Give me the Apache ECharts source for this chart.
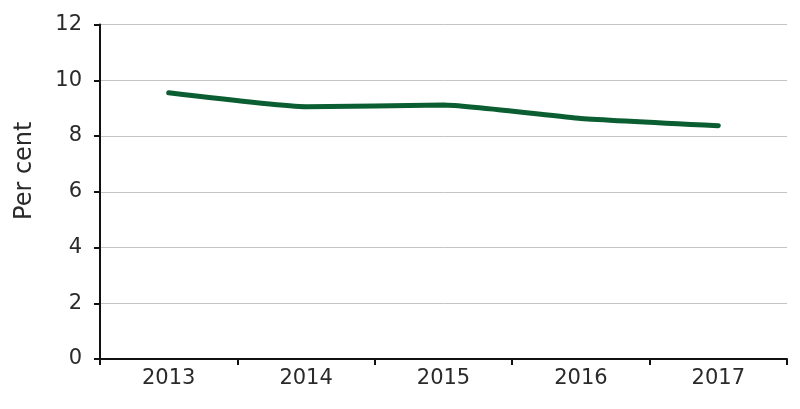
<!DOCTYPE html>
<html>
<head>
<meta charset="utf-8">
<script src="https://cdn.jsdelivr.net/npm/echarts@6/dist/echarts.min.js"></script>
<style>
  html, body { margin: 0; padding: 0; background: #fff; }
  #main { width: 800px; height: 409px; }
</style>
</head>
<body>
<div id="main"></div>
<script>
// 数据
var years = ['2013', '2014', '2015', '2016', '2017'];
var perCent = [9.55, 9.05, 9.11, 8.63, 8.37];

var chart = echarts.init(document.getElementById('main'));

var option = {
    animation: false,
    grid: { left: 100, right: 13, top: 24.5, bottom: 50 },
    xAxis: {
        type: 'category',
        data: years,
        boundaryGap: true,
        axisLine: { lineStyle: { color: '#111', width: 2 } },
        axisTick: { show: true, length: 6, lineStyle: { color: '#111', width: 2 } },
        axisLabel: {
            color: '#2a2a2a', fontSize: 21, fontFamily: 'DejaVu Sans', margin: 9
        }
    },
    yAxis: {
        type: 'value',
        min: 0, max: 12, interval: 2,
        name: 'Per cent',
        nameLocation: 'middle',
        nameGap: 63,
        nameTextStyle: {
            color: '#2a2a2a', fontSize: 24, fontFamily: 'DejaVu Sans',
            padding: [0, 0, 0, 42]
        },
        axisLine: { show: true, lineStyle: { color: '#111', width: 2 } },
        axisTick: { show: true, length: 6, lineStyle: { color: '#111', width: 2 } },
        axisLabel: {
            color: '#2a2a2a', fontSize: 21, fontFamily: 'DejaVu Sans', margin: 18
        },
        splitLine: { lineStyle: { color: '#c4c4c4', width: 1 } }
    },
    series: [{
        type: 'line',
        data: perCent,
        smooth: 0.15,
        symbol: 'none',
        lineStyle: { color: '#0b5e32', width: 5, cap: 'round' }
    }]
};

chart.setOption(option);
</script>
</body>
</html>
